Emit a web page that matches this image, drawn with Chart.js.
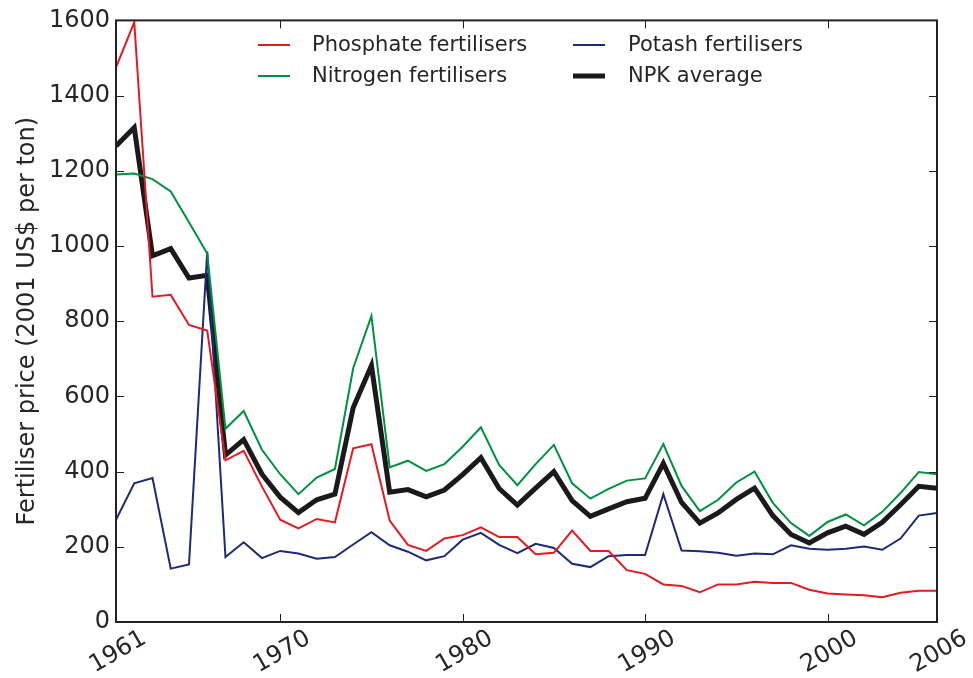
<!DOCTYPE html>
<html>
<head>
<meta charset="utf-8">
<script src="https://cdn.jsdelivr.net/npm/chart.js@4.4.0/dist/chart.umd.min.js"></script>
<style>
  html, body { margin: 0; padding: 0; background: #fff; }
  #wrap { width: 973px; height: 678px; }
</style>
</head>
<body>
<div id="wrap"><canvas id="chart" width="973" height="678"></canvas></div>
<script>
// fertiliser prices, 2001 US$ per ton
const years = [1961, 1962, 1963, 1964, 1965, 1966, 1967, 1968, 1969, 1970,
    1971, 1972, 1973, 1974, 1975, 1976, 1977, 1978, 1979, 1980,
    1981, 1982, 1983, 1984, 1985, 1986, 1987, 1988, 1989, 1990,
    1991, 1992, 1993, 1994, 1995, 1996, 1997, 1998, 1999, 2000,
    2001, 2002, 2003, 2004, 2005, 2006];
const phosphate = [1475, 1595, 865, 870, 790, 775, 430, 455, 360, 272,
    249, 274, 265, 462, 473, 270, 205, 189, 222, 231,
    252, 226, 226, 180, 184, 243, 189, 189, 138, 128,
    100, 96, 79, 100, 100, 107, 104, 104, 86, 76,
    73, 71, 66, 78, 83, 83];
const nitrogen = [1190, 1193, 1178, 1145, 1063, 980, 514, 561, 458, 393,
    340, 384, 407, 675, 814, 411, 429, 402, 420, 466,
    518, 418, 364, 420, 471, 369, 328, 354, 376, 382,
    473, 362, 295, 325, 371, 400, 317, 263, 229, 266,
    286, 257, 293, 343, 399, 393];
const potash = [272, 369, 383, 142, 153, 985, 173, 212, 170, 189,
    182, 168, 173, 206, 239, 204, 187, 164, 175, 219,
    237, 205, 183, 208, 197, 155, 146, 175, 178, 178,
    340, 190, 188, 184, 176, 182, 180, 204, 195, 192,
    195, 201, 192, 222, 283, 290];
const npkAverage = [1266, 1315, 974, 993, 915, 922, 444, 485, 393, 332,
    291, 325, 340, 570, 682, 345, 352, 333, 351, 392,
    437, 355, 311, 356, 400, 323, 281, 301, 320, 329,
    422, 318, 263, 290, 326, 356, 283, 233, 210, 237,
    255, 233, 265, 312, 361, 356];
const xTicks = [1961, 1970, 1980, 1990, 2000, 2006];
const yTicks = [0, 200, 400, 600, 800, 1000, 1200, 1400, 1600];

const FONT = "'DejaVu Sans', 'Liberation Sans', sans-serif";
const TEXT = '#262626';

const points = (vals) => years.map((yr, i) => ({ x: yr, y: vals[i] }));

// spines, inward ticks, rotated x labels
const framePlugin = {
    id: 'frame',
    afterDatasetsDraw(chart) {
        const { ctx, chartArea: a, scales } = chart;
        ctx.save();
        ctx.strokeStyle = '#222';
        ctx.lineWidth = 1;
        ctx.beginPath();
        xTicks.forEach(t => {
            const px = Math.round(scales.x.getPixelForValue(t)) + 0.5;
            ctx.moveTo(px, a.bottom); ctx.lineTo(px, a.bottom - 8);
            ctx.moveTo(px, a.top); ctx.lineTo(px, a.top + 8);
        });
        yTicks.forEach(t => {
            const py = Math.round(scales.y.getPixelForValue(t)) + 0.5;
            ctx.moveTo(a.left, py); ctx.lineTo(a.left + 8, py);
            ctx.moveTo(a.right, py); ctx.lineTo(a.right - 8, py);
        });
        ctx.stroke();

        ctx.lineWidth = 2;
        ctx.strokeStyle = '#222';
        ctx.strokeRect(a.left, a.top, a.right - a.left, a.bottom - a.top);

        ctx.fillStyle = TEXT;
        ctx.font = '24px ' + FONT;
        ctx.textAlign = 'center';
        ctx.textBaseline = 'middle';
        xTicks.forEach(t => {
            const px = scales.x.getPixelForValue(t);
            ctx.save();
            ctx.translate(px + 2, a.bottom + 30);
            ctx.rotate(-Math.PI / 6);
            ctx.fillText(String(t), 0, 0);
            ctx.restore();
        });
        ctx.restore();
    },
};

// two-column legend inside the plot
const legendPlugin = {
    id: 'legendBox',
    afterDraw(chart) {
        const { ctx } = chart;
        const slots = [
            { lx: 258, tx: 312, y: 45 },
            { lx: 258, tx: 312, y: 76 },
            { lx: 573, tx: 628, y: 45 },
            { lx: 573, tx: 628, y: 76 },
        ];
        ctx.save();
        ctx.font = '21px ' + FONT;
        ctx.textBaseline = 'middle';
        ctx.textAlign = 'left';
        chart.data.datasets.forEach((ds, i) => {
            const s = slots[i];
            ctx.strokeStyle = ds.borderColor;
            ctx.lineWidth = ds.borderWidth;
            ctx.beginPath();
            ctx.moveTo(s.lx, s.y);
            ctx.lineTo(s.lx + 32, s.y);
            ctx.stroke();
            ctx.fillStyle = TEXT;
            ctx.fillText(ds.label, s.tx, s.y + 1);
        });
        ctx.restore();
    },
};

new Chart(document.getElementById('chart'), {
    type: 'line',
    data: {
        datasets: [
            { label: 'Phosphate fertilisers', data: points(phosphate), borderColor: '#e31a22', borderWidth: 2 },
            { label: 'Nitrogen fertilisers', data: points(nitrogen), borderColor: '#00913f', borderWidth: 2 },
            { label: 'Potash fertilisers', data: points(potash), borderColor: '#1c2a78', borderWidth: 2 },
            { label: 'NPK average', data: points(npkAverage), borderColor: '#1a1a1a', borderWidth: 5 },
        ],
    },
    options: {
        responsive: false,
        animation: false,
        events: [],
        elements: {
            point: { radius: 0 },
            line: { tension: 0, borderJoinStyle: 'miter', fill: false },
        },
        layout: { padding: { top: 18, right: 36, left: 0, bottom: 0 } },
        plugins: {
            legend: { display: false },
            tooltip: { enabled: false },
        },
        scales: {
            x: {
                type: 'linear',
                min: 1961,
                max: 2006,
                afterBuildTicks: (scale) => { scale.ticks = xTicks.map(v => ({ value: v })); },
                afterFit: (scale) => { scale.height = 56; },
                grid: { display: false },
                border: { display: false },
                ticks: { display: false },
            },
            y: {
                min: 0,
                max: 1600,
                afterBuildTicks: (scale) => { scale.ticks = yTicks.map(v => ({ value: v })); },
                afterFit: (scale) => { scale.width = 116; },
                grid: { display: false, drawTicks: false },
                border: { display: false },
                ticks: {
                    padding: 6,
                    color: TEXT,
                    font: { family: FONT, size: 24 },
                    callback: (v) => String(v),
                },
                title: {
                    display: true,
                    text: 'Fertiliser price (2001 US$ per ton)',
                    color: TEXT,
                    font: { family: FONT, size: 24 },
                    padding: { top: 13, bottom: 0 },
                },
            },
        },
    },
    plugins: [framePlugin, legendPlugin],
});
</script>
</body>
</html>
